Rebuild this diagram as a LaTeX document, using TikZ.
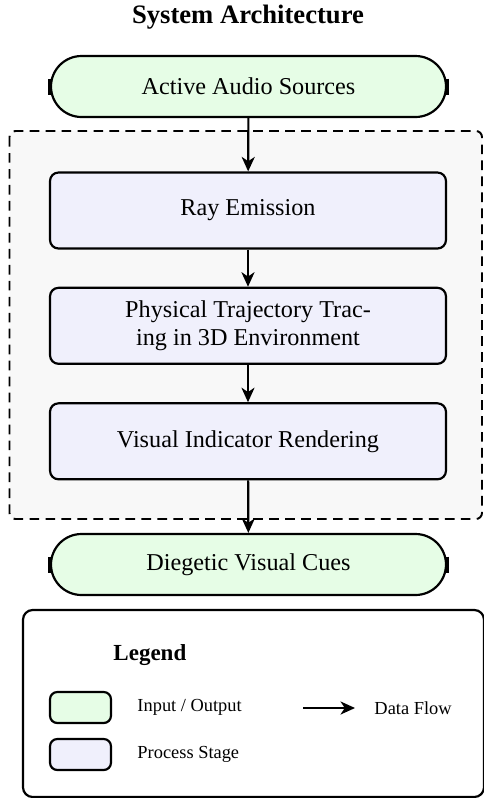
\documentclass[tikz,border=0pt]{standalone}
\usepackage{fontspec}
\setmainfont{Liberation Serif}
\usetikzlibrary{shapes.misc,arrows.meta}
\definecolor{iogreen}{HTML}{E6FDE6}
\definecolor{proclav}{HTML}{F0F0FC}
\definecolor{grpgray}{HTML}{F8F8F8}
\begin{document}
\begin{tikzpicture}[x=0.4132pt,y=-0.4132pt,
  procbox/.style={draw, line width=0.9pt, fill=proclav, rounded corners=3.5pt,
    minimum width=163.6pt, minimum height=31.4pt, inner sep=0pt,
    align=center, font=\fontsize{10}{11.6}\selectfont},
  iobox/.style={draw, line width=0.9pt, fill=iogreen, rounded rectangle,
    minimum width=163.2pt, minimum height=25.2pt, inner sep=0pt,
    font=\fontsize{10}{12}\selectfont},
  flow/.style={-{Stealth[length=6pt,width=5.4pt,inset=1.8pt]}, line width=0.9pt},
  endtick/.style={line width=1.2pt},
  grpbox/.style={draw, line width=0.8pt, dash pattern=on 4pt off 2.6pt, fill=grpgray, rounded corners=2.5pt},
  legbox/.style={draw, line width=0.9pt, rounded corners=4pt},
  swatch/.style={draw, line width=0.9pt, rounded corners=3pt, minimum width=25.2pt, minimum height=12.8pt, inner sep=0pt},
  leglabel/.style={anchor=west, inner sep=0pt, font=\fontsize{7.6}{9}\selectfont}
]
\useasboundingbox (0,0) rectangle (483,798);

% group background
\path[grpbox] (9.5,131) rectangle (482,519);

% title
\node[font=\fontsize{11}{13}\selectfont\bfseries] (title) at (248,17) {System Architecture};

% nodes
\node[iobox] (src) at (248.5,86.5) {Active Audio Sources};
\node[procbox] (ray) at (248,210.5) {Ray Emission};
\node[procbox] (phys) at (248,325.8) {Physical Trajectory Trac-\\ing in 3D Environment};
\node[procbox] (vis) at (248,441.3) {Visual Indicator Rendering};
\node[iobox] (cues) at (248.5,564.5) {Diegetic Visual Cues};

% end ticks of terminals
\foreach \n in {src,cues}{
  \draw[endtick] (\n.west) ++(0,-8) -- ++(0,16);
  \draw[endtick] (\n.east) ++(0,-8) -- ++(0,16);
}

% connectors
\draw[flow] (src) -- (ray);
\draw[flow] (ray) -- (phys);
\draw[flow] (phys) -- (vis);
\draw[flow] (vis) -- (cues);

% legend
\path[legbox] (23,610) rectangle (484,797);
\node[anchor=west, inner sep=0pt, font=\fontsize{9.5}{11}\selectfont\bfseries] (legtitle) at (113,655) {Legend};
\node[swatch, fill=iogreen] (sw1) at (80.5,707.5) {};
\node[swatch, fill=proclav] (sw2) at (80.5,754.5) {};
\node[leglabel] (l1) at (137,707) {Input / Output};
\node[leglabel] (l2) at (137,754) {Process Stage};
\coordinate (fa) at (303,708);
\coordinate (fb) at (355,708);
\draw[flow] (fa) -- (fb);
\node[leglabel] (l3) at (374,708) {Data Flow};
\end{tikzpicture}
\end{document}
